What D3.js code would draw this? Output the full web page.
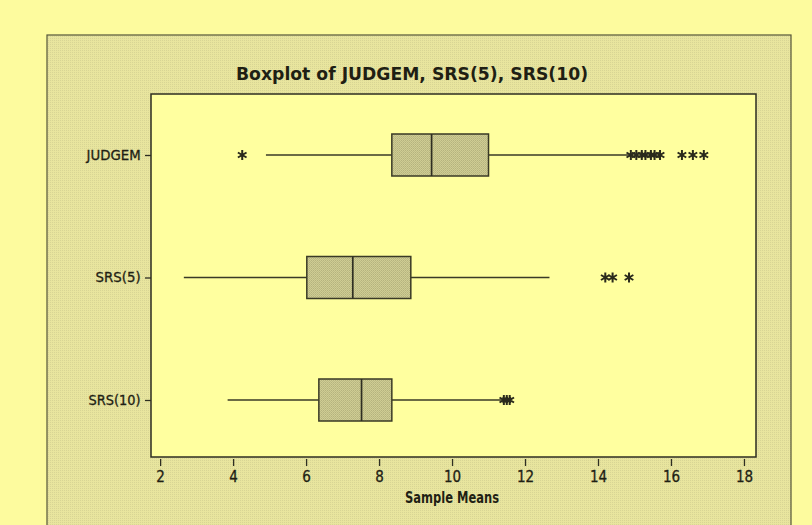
<!DOCTYPE html>
<html>
<head>
<meta charset="utf-8">
<script src="https://cdn.jsdelivr.net/npm/d3@7"></script>
<style>
  body { margin: 0; background: #fdfb9e; }
  text { font-family: Tahoma, "DejaVu Sans Condensed", "DejaVu Sans", sans-serif; fill: #1f1f14; }
</style>
</head>
<body>
<div id="chart"></div>
<script>
var svgWidth = 812;
var svgHeight = 525;

// plot area inside the grey frame
var margin = { top: 94, right: 56, bottom: 68, left: 151 };
var width = svgWidth - margin.left - margin.right;
var height = svgHeight - margin.top - margin.bottom;

// Data
var categories = ["JUDGEM", "SRS(5)", "SRS(10)"];
var whiskerLow  = [4.9, 2.65, 3.85];
var q1          = [8.35, 6.02, 6.35];
var medians     = [9.44, 7.28, 7.52];
var q3          = [11.0, 8.87, 8.35];
var whiskerHigh = [14.85, 12.67, 11.38];
var outliers = [
  [4.25, 14.9, 15.05, 15.2, 15.3, 15.45, 15.55, 15.7, 16.3, 16.6, 16.9],
  [14.2, 14.4, 14.85],
  [11.42, 11.5, 11.58]
];
var xTicks = [2, 4, 6, 8, 10, 12, 14, 16, 18];

var svg = d3.select("#chart")
  .append("svg")
  .attr("width", svgWidth)
  .attr("height", svgHeight);

// textures
var defs = svg.append("defs");
var frameTex = defs.append("pattern")
  .attr("id", "frameTex").attr("width", 2).attr("height", 2)
  .attr("patternUnits", "userSpaceOnUse");
frameTex.append("rect").attr("width", 2).attr("height", 2).attr("fill", "#e8e59e");
frameTex.append("rect").attr("width", 1).attr("height", 1).attr("fill", "#d8d594");

var boxTex = defs.append("pattern")
  .attr("id", "boxTex").attr("width", 2).attr("height", 2)
  .attr("patternUnits", "userSpaceOnUse");
boxTex.append("rect").attr("width", 2).attr("height", 2).attr("fill", "#cfcd93");
boxTex.append("rect").attr("width", 1).attr("height", 1).attr("fill", "#b5b37e");
boxTex.append("rect").attr("x", 1).attr("y", 1).attr("width", 1).attr("height", 1).attr("fill", "#bdbb85");

// outer frame
svg.append("rect")
  .attr("x", 47).attr("y", 35)
  .attr("width", 744).attr("height", 500)
  .attr("fill", "url(#frameTex)")
  .attr("stroke", "#55553a").attr("stroke-width", 1.2);

// title
svg.append("text")
  .attr("x", 412).attr("y", 80)
  .attr("text-anchor", "middle")
  .attr("font-size", 18).attr("font-weight", "bold")
  .attr("textLength", 352).attr("lengthAdjust", "spacingAndGlyphs")
  .text("Boxplot of JUDGEM, SRS(5), SRS(10)");

var chartGroup = svg.append("g")
  .attr("transform", `translate(${margin.left}, ${margin.top})`);

chartGroup.append("rect")
  .attr("width", width).attr("height", height)
  .attr("fill", "#ffff9f")
  .attr("stroke", "#2e2e22").attr("stroke-width", 1.5);

var xScale = d3.scaleLinear()
  .domain([1.75, 18.33])
  .range([0, width]);

var yScale = d3.scalePoint()
  .domain(categories)
  .range([61, 306]);

// axes
var bottomAxis = d3.axisBottom(xScale).tickValues(xTicks).tickSize(7).tickSizeOuter(0);
var leftAxis = d3.axisLeft(yScale).tickSize(6).tickSizeOuter(0);

var xAxisG = chartGroup.append("g")
  .attr("transform", `translate(0, ${height + 2})`)
  .call(bottomAxis);
xAxisG.select(".domain").remove();
xAxisG.selectAll("line").attr("stroke", "#2e2e22").attr("stroke-width", 1.3);
xAxisG.selectAll("text").attr("font-size", 15).attr("dy", "0.85em").attr("fill", "#1f1f14")
  .attr("stroke", "#1f1f14").attr("stroke-width", 0.3);

var yAxisG = chartGroup.append("g").call(leftAxis);
yAxisG.select(".domain").remove();
yAxisG.selectAll("line").attr("stroke", "#2e2e22").attr("stroke-width", 1.3);
yAxisG.selectAll("text").attr("font-size", 14).attr("dx", "-0.1em").attr("fill", "#1f1f14")
  .attr("stroke", "#1f1f14").attr("stroke-width", 0.3)
  .attr("textLength", function(d) { return d === "JUDGEM" ? 54 : (d === "SRS(5)" ? 45 : 52); })
  .attr("lengthAdjust", "spacingAndGlyphs");

svg.append("text")
  .attr("x", 452).attr("y", 503)
  .attr("text-anchor", "middle")
  .attr("font-size", 15).attr("font-weight", "bold")
  .attr("textLength", 94).attr("lengthAdjust", "spacingAndGlyphs")
  .text("Sample Means");

// boxes
var boxH = 42;
var rows = categories.map(function(c, i) {
  return { cat: c, lo: whiskerLow[i], q1: q1[i], med: medians[i], q3: q3[i], hi: whiskerHigh[i], out: outliers[i] };
});

var boxG = chartGroup.selectAll(".boxrow")
  .data(rows)
  .enter()
  .append("g")
  .attr("class", "boxrow");

boxG.append("line")
  .attr("x1", d => xScale(d.lo)).attr("x2", d => xScale(d.q1))
  .attr("y1", d => yScale(d.cat)).attr("y2", d => yScale(d.cat))
  .attr("stroke", "#3a3a26").attr("stroke-width", 1.7);

boxG.append("line")
  .attr("x1", d => xScale(d.q3)).attr("x2", d => xScale(d.hi))
  .attr("y1", d => yScale(d.cat)).attr("y2", d => yScale(d.cat))
  .attr("stroke", "#3a3a26").attr("stroke-width", 1.7);

boxG.append("rect")
  .attr("x", d => xScale(d.q1))
  .attr("y", d => yScale(d.cat) - boxH / 2)
  .attr("width", d => xScale(d.q3) - xScale(d.q1))
  .attr("height", boxH)
  .attr("fill", "url(#boxTex)")
  .attr("stroke", "#3a3a26").attr("stroke-width", 1.5);

boxG.append("line")
  .attr("x1", d => xScale(d.med)).attr("x2", d => xScale(d.med))
  .attr("y1", d => yScale(d.cat) - boxH / 2).attr("y2", d => yScale(d.cat) + boxH / 2)
  .attr("stroke", "#2e2e22").attr("stroke-width", 1.7);

// outliers as asterisks
var star = d3.symbol().type(d3.symbolAsterisk).size(70);
boxG.each(function(d) {
  d3.select(this).selectAll("path.out")
    .data(d.out)
    .enter()
    .append("path")
    .attr("class", "out")
    .attr("d", star)
    .attr("transform", v => `translate(${xScale(v)}, ${yScale(d.cat)})`)
    .attr("fill", "none")
    .attr("stroke", "#2a2a1c").attr("stroke-width", 2);
});
</script>
</body>
</html>
